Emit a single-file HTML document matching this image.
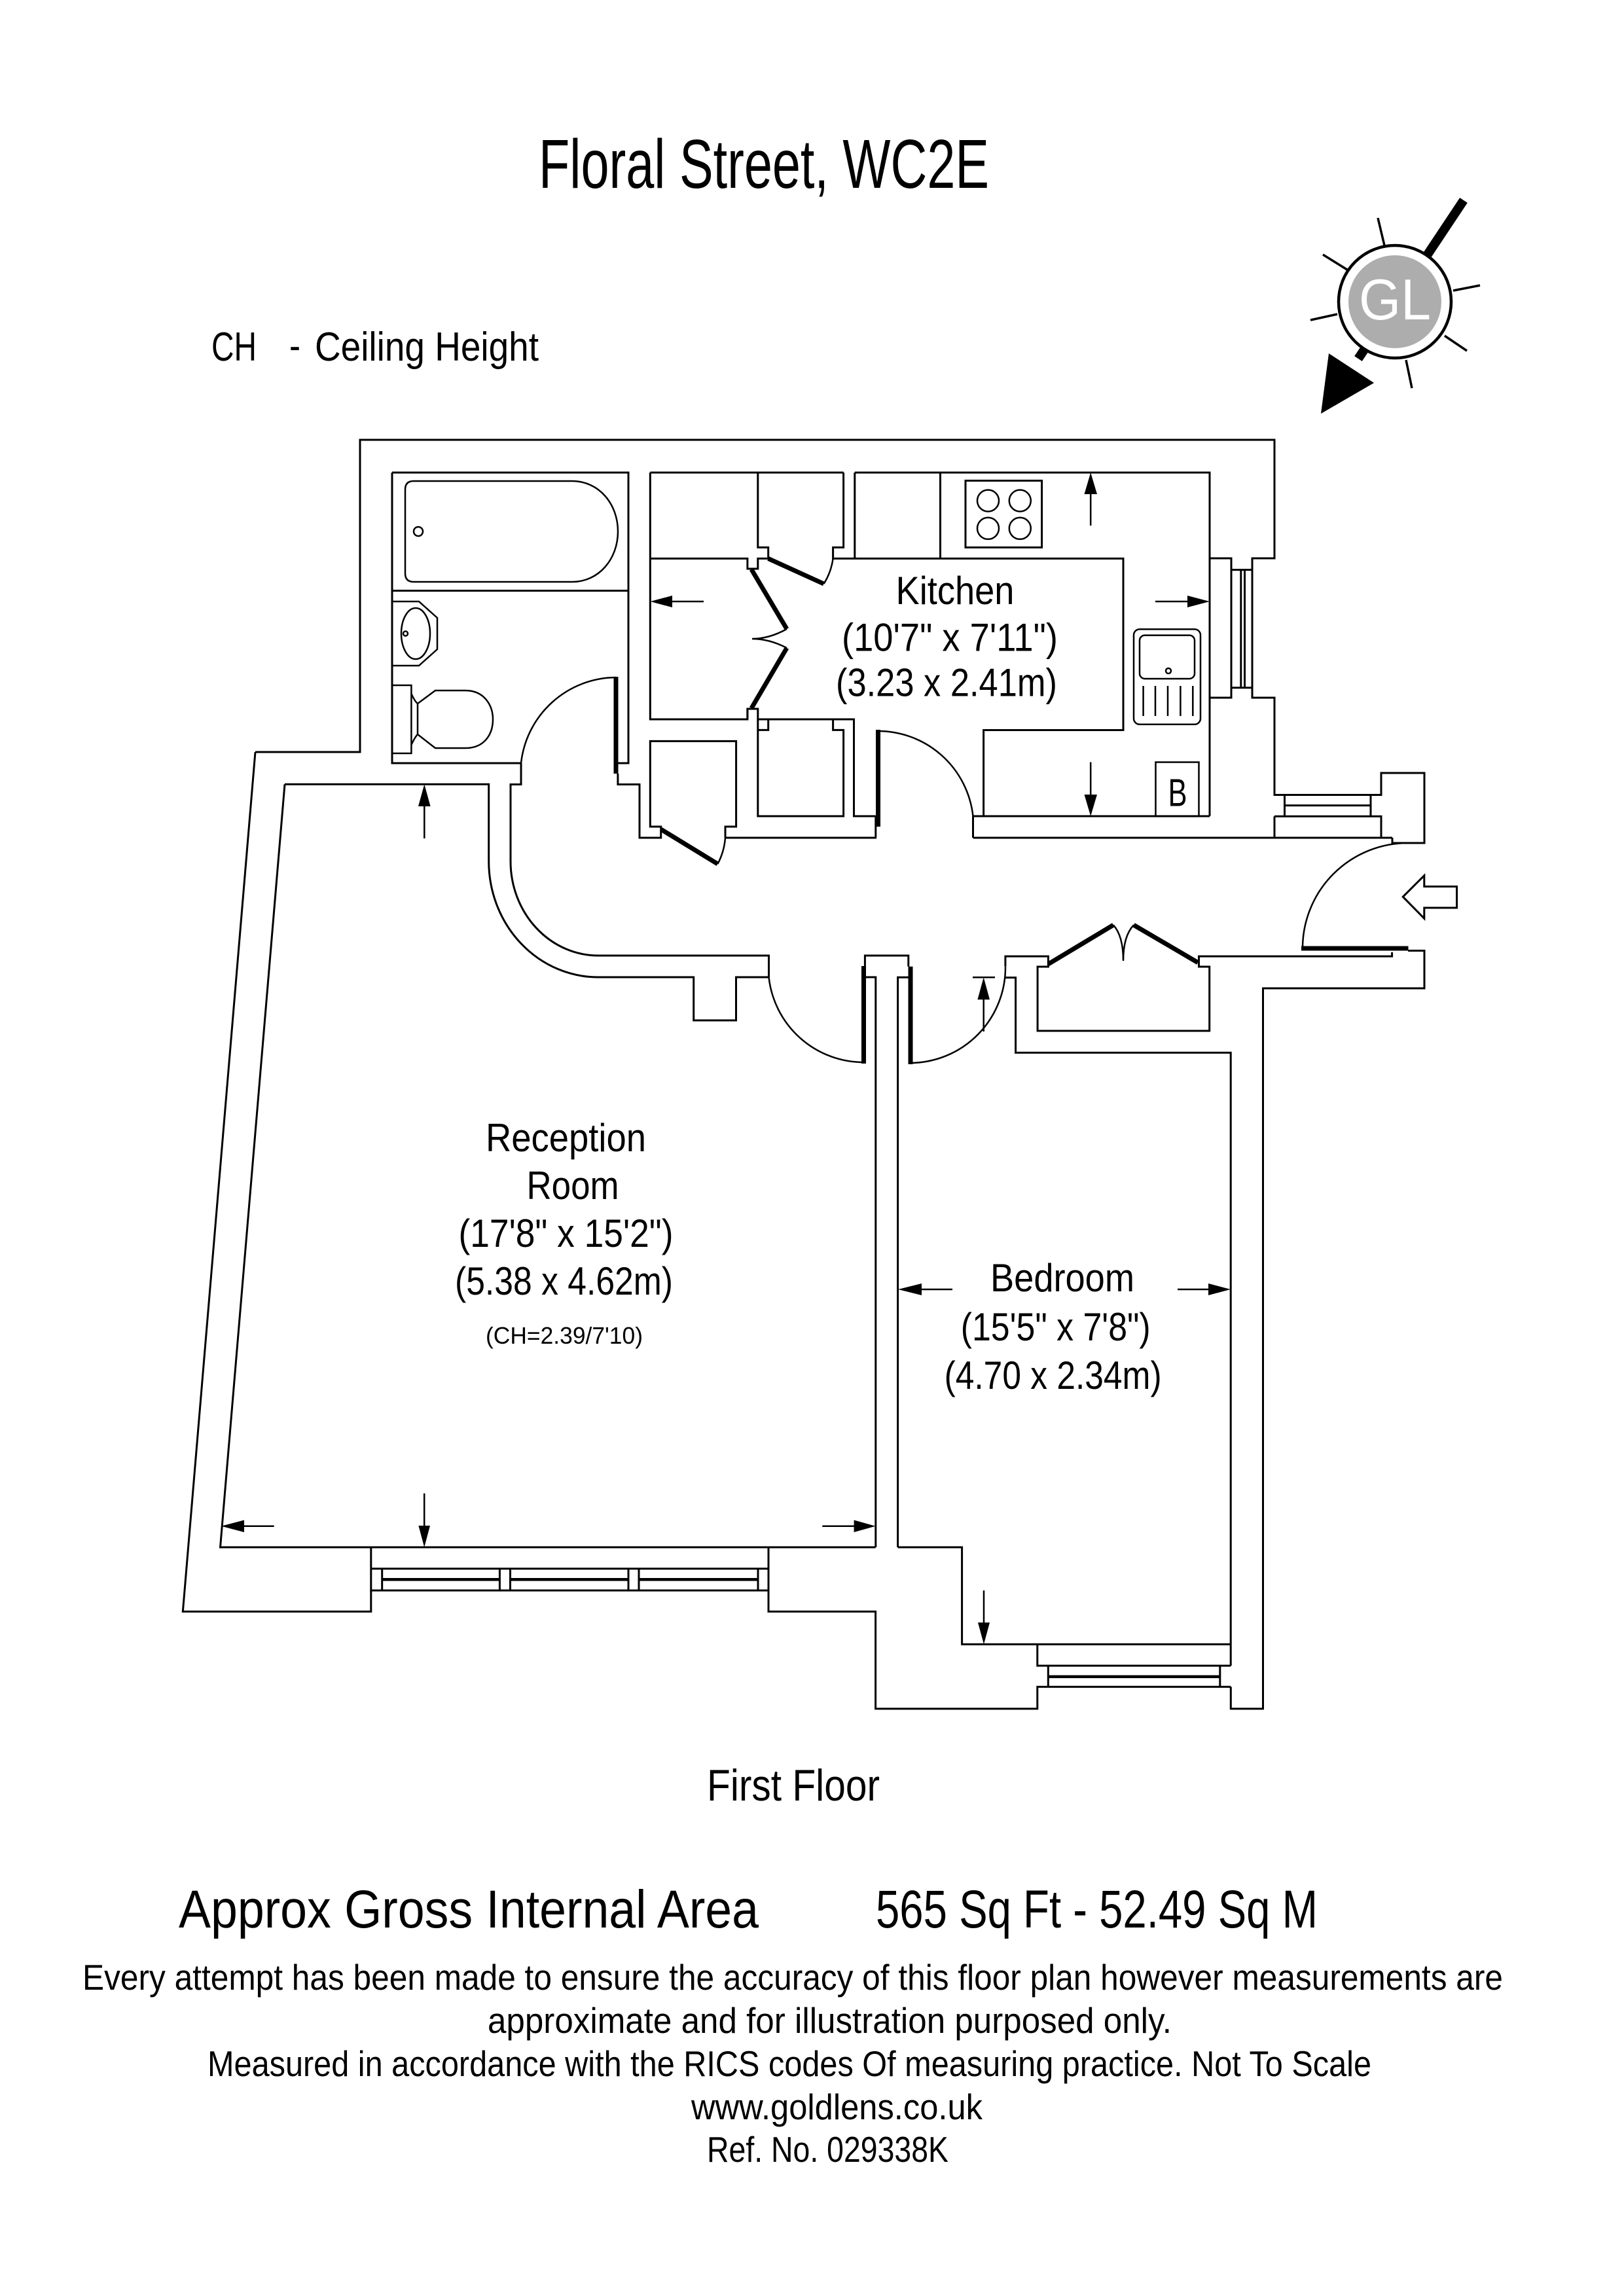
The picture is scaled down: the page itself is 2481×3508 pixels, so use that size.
<!DOCTYPE html>
<html><head><meta charset="utf-8"><style>
html,body{margin:0;padding:0;background:#fff;}
svg{display:block;}
text{font-family:"Liberation Sans Narrow","Liberation Sans",sans-serif;fill:#000;}
</style></head><body>
<svg width="2481" height="3508" viewBox="0 0 2481 3508" xmlns="http://www.w3.org/2000/svg">
<rect width="2481" height="3508" fill="#fff"/>

<!-- Title texts -->
<text x="823" y="287" font-size="106" textLength="688" lengthAdjust="spacingAndGlyphs">Floral Street, WC2E</text>
<text x="323" y="551" font-size="62" textLength="69" lengthAdjust="spacingAndGlyphs">CH</text>
<text x="442" y="549" font-size="62" textLength="17" lengthAdjust="spacingAndGlyphs">-</text>
<text x="481" y="551" font-size="62" textLength="342" lengthAdjust="spacingAndGlyphs">Ceiling Height</text>

<!-- Compass -->
<g>
<line x1="2236" y1="306" x2="2075" y2="548" stroke="#000" stroke-width="14"/>
<polygon points="2018,632 2030,540 2099,585" fill="#000"/>
<g stroke="#000" stroke-width="3.5" stroke-linecap="butt">
<line x1="2105" y1="333" x2="2115" y2="375"/>
<line x1="2021" y1="389" x2="2058" y2="412"/>
<line x1="2002" y1="489" x2="2043" y2="480"/>
<line x1="2220" y1="444" x2="2261" y2="436"/>
<line x1="2207" y1="513" x2="2241" y2="536"/>
<line x1="2148" y1="550" x2="2157" y2="593"/>
</g>
<circle cx="2131" cy="461" r="86" fill="#fff" stroke="#000" stroke-width="4.5"/>
<circle cx="2131" cy="461" r="71" fill="#adadad"/>
<text x="2131" y="488" font-size="88" text-anchor="middle" textLength="110" lengthAdjust="spacingAndGlyphs" style="fill:#fff;font-family:'Liberation Sans',sans-serif;">GL</text>
</g>

<!-- Walls -->
<g fill="none" stroke="#000" stroke-width="3" stroke-linejoin="miter">
<path d="M390,1149 L550,1149 L550,672 L1947,672 L1947,853 L1913,853 L1913,1066 L1947,1066 L1947,1214.5 L2110,1214.5 L2110,1181 L2176,1181 L2176,1288 L2127,1288 L2127,1280"/>
<path d="M1848,853 L1881,853 L1881,1066 L1848,1066 M1881,870.6 L1913,870.6 M1881,1050.7 L1913,1050.7 M1895.8,870.6 L1895.8,1050.7 M1901.5,870.6 L1901.5,1050.7"/>
<path d="M1962.5,1214.5 L1962.5,1247.3 M2094,1214.5 L2094,1247.3 M1962.5,1230.6 L2094,1230.6 M1947,1247.3 L2110,1247.3 L2110,1280 M1947,1247.3 L1947,1280"/>
<path d="M1108,1280 L1339,1280 M1486.5,1280 L2127,1280 M1486.5,1247 L1848,1247 M1486.5,1247 L1486.5,1280 M1337.8,1247 L1337.8,1280"/>

<path d="M599,722 L960,722 L960,1166 L941,1166 M796,1166 L599,1166 L599,722 M599,902.5 L960,902.5"/>
<path d="M796,1166 L796,1198.5 L780,1198.5 L780,1316 A134,144 0 0 0 914,1460 L1174.5,1460 L1174.5,1493"/>
<path d="M943.9,1182 L943.9,1198.5 L977,1198.5 L977,1280 L1009.7,1280 L1009.7,1263 L993.3,1263 L993.3,1132.4 L1124.6,1132.4 L1124.6,1263 L1108,1263 L1108,1280"/>

<path d="M993.3,722 L1288.6,722 M1305.8,722 L1848,722 L1848,1247"/>
<path d="M993.3,722 L993.3,1099 L1141.9,1099 L1141.9,1083 L1157.8,1083 L1157.8,1099 L1304.5,1099 L1304.5,1247 L1337.8,1247"/>
<path d="M1157.8,1099 L1157.8,1115.4 L1173.7,1115.4 L1173.7,1099 M1272.6,1099 L1272.6,1115.4 L1288.6,1115.4 L1288.6,1247 L1157.8,1247 L1157.8,1115.4"/>
<path d="M1157.8,722 L1157.8,836.4 L1173.7,836.4 L1173.7,853.4 M1288.6,722 L1288.6,836.4 L1272.6,836.4 L1272.6,853.4 L1716,853.4 L1716,1115.5 L1502.6,1115.5 L1502.6,1247"/>
<path d="M993.3,853.4 L1141.9,853.4 L1141.9,869 L1157.8,869 L1157.8,853.4 L1173.7,853.4 M1141.9,1099 L1141.9,1083"/>
<path d="M1305.8,722 L1305.8,853.4 M1436.5,722 L1436.5,853.4"/>
<rect x="1475" y="734.4" width="116.6" height="102"/>

<path d="M435,1198.3 L746.7,1198.3 L746.7,1316 A167,177 0 0 0 914,1493 L1059.7,1493 L1059.7,1559 L1124.5,1559 L1124.5,1493 L1174.5,1493"/>
<path d="M1321.4,1493 L1321.4,1460 L1387.8,1460 L1387.8,1476.7 M1321.4,1493 L1337.8,1493 L1337.8,2364 M1371.6,2364 L1371.6,1493.3 L1387.8,1493.3"/>
<path d="M1535.9,1476.7 L1535.9,1461.1 L1601.4,1461.1 L1601.4,1477 L1585.1,1477 L1585.1,1575 L1847.7,1575 L1847.7,1477 L1831.5,1477 L1831.5,1461.1 L2126.6,1461.1 L2126.6,1454.9"/>
<path d="M2151,1452.5 L2176,1452.5 L2176,1510 L1929.5,1510 L1929.5,2610.7 L1880.3,2610.7 L1880.3,2577.3"/>
<path d="M1535.9,1493.6 L1551.6,1493.6 L1551.6,1608.4 L1880.2,1608.4 L1880.2,2545"/>

<path d="M390,1149 L279.3,2462.3 L566.8,2462.3 L566.8,2430 M1174,2430 L1174,2462.3 L1337.6,2462.3 L1337.6,2610.7 L1584.8,2610.7 L1584.8,2577.3 L1880.3,2577.3"/>
<path d="M435,1198.3 L336.5,2364 L1337.6,2364"/>
<path d="M566.8,2364 L566.8,2430 L1174,2430 L1174,2364 M566.8,2396.7 L1174,2396.7"/>
<path d="M583.7,2396.7 L583.7,2430 M763.4,2396.7 L763.4,2430 M779.5,2396.7 L779.5,2430 M960,2396.7 L960,2430 M976,2396.7 L976,2430 M1158,2396.7 L1158,2430"/>

<path d="M1371.6,2364 L1469.6,2364 L1469.6,2512.3 L1880.3,2512.3 M1584.8,2512.3 L1584.8,2545 L1880.3,2545 M1601.3,2545 L1601.3,2577.3 M1863.8,2545 L1863.8,2577.3"/>
</g>
<g stroke="#000" stroke-width="4.5" fill="none">
<path d="M583.7,2413.3 L763.4,2413.3 M779.5,2413.3 L960,2413.3 M976,2413.3 L1158,2413.3"/>
<path d="M1601.3,2561.7 L1863.8,2561.7"/>
</g>

<!-- Door swings -->
<g fill="none" stroke="#000" stroke-width="2.5">
<path d="M941,1035 A147,147 0 0 0 796,1166"/>
<path d="M1174.5,1493 A146,146 0 0 0 1319,1623"/>
<path d="M1393,1624 A146,146 0 0 0 1536,1477"/>
<path d="M1341,1117 A146,146 0 0 1 1486.5,1247"/>
<path d="M2151,1288 A161,161 0 0 0 1990,1449"/>
<path d="M1096.4,1320 A101,101 0 0 0 1108,1280"/>
<path d="M1258.5,892 A96,96 0 0 0 1272.6,853.4"/>
<path d="M1202,961 Q1175,976 1149,976 Q1175,976 1202,990"/>
<path d="M1700.9,1413.3 Q1716,1430 1716,1468 M1732,1413.3 Q1716,1430 1716,1468"/>
</g>

<!-- Door leaves -->
<g stroke="#000" stroke-width="7" fill="none" stroke-linecap="butt">
<line x1="941" y1="1034" x2="941" y2="1182"/>
<line x1="1319.5" y1="1476" x2="1319.5" y2="1625"/>
<line x1="1391" y1="1476.7" x2="1391" y2="1626"/>
<line x1="1341.5" y1="1115" x2="1341.5" y2="1263"/>
<line x1="1988" y1="1449" x2="2151.5" y2="1449"/>
<line x1="1009.7" y1="1267" x2="1096.4" y2="1320"/>
<line x1="1173.7" y1="853.4" x2="1258.5" y2="892"/>
<line x1="1148" y1="870" x2="1202" y2="961"/>
<line x1="1202" y1="990" x2="1148" y2="1082"/>
<line x1="1601.4" y1="1473" x2="1700.9" y2="1413.3"/>
<line x1="1732" y1="1413.3" x2="1830" y2="1470.7"/>
</g>

<!-- Bathroom fixtures -->
<g fill="none" stroke="#000" stroke-width="2.5">
<path d="M632,735 L874,735 C915,735 944,770 944,812 C944,854 915,889 874,889 L632,889 Q619,889 619,876 L619,748 Q619,735 632,735 Z"/>
<circle cx="639" cy="812" r="7"/>
<path d="M599,919 L640,919 L668,944 L668,992 L640,1017 L599,1017"/>
<ellipse cx="635" cy="968" rx="22" ry="39"/>
<circle cx="619.5" cy="968" r="3.5"/>
<rect x="599" y="1047" width="29.4" height="104"/>
<path d="M638,1075 L665,1055 L711,1055 C740,1055 753,1078 753,1099 C753,1122 740,1143 711,1143 L665,1143 L638,1122 Z"/>
<path d="M628.4,1060 Q634,1072 638,1075 M628.4,1138 Q634,1126 638,1122"/>
</g>

<!-- Kitchen fixtures -->
<g fill="none" stroke="#000" stroke-width="2.5">
<circle cx="1509.5" cy="765" r="16.5"/>
<circle cx="1558.3" cy="765" r="16.5"/>
<circle cx="1509.5" cy="807.3" r="16.5"/>
<circle cx="1558.3" cy="807.3" r="16.5"/>
<rect x="1732" y="961.4" width="102" height="145.4" rx="9"/>
<rect x="1741" y="970.6" width="84" height="66.4" rx="8"/>
<circle cx="1785" cy="1025" r="4"/>
<path d="M1746.6,1048 L1746.6,1094 M1765,1048 L1765,1094 M1784,1048 L1784,1094 M1803.4,1048 L1803.4,1094 M1822.3,1048 L1822.3,1094"/>
<rect x="1765.5" y="1164.5" width="66" height="82.8"/>
</g>
<text x="1799" y="1231.5" font-size="59" text-anchor="middle" textLength="29" lengthAdjust="spacingAndGlyphs">B</text>

<!-- Entry arrow -->
<polygon points="2143.3,1370.2 2175.8,1337.7 2175.8,1354.5 2225.6,1354.5 2225.6,1387 2175.8,1387 2175.8,1403.3" fill="#fff" stroke="#000" stroke-width="3"/>

<!-- Dimension arrows -->
<g stroke="#000" stroke-width="2.5">
<line x1="1075" y1="919" x2="1027" y2="919"/>
<line x1="1666.2" y1="803" x2="1666.2" y2="755"/>
<line x1="1765" y1="919" x2="1814" y2="919"/>
<line x1="1666.2" y1="1164.5" x2="1666.2" y2="1214"/>
<line x1="648.3" y1="1281" x2="648.3" y2="1232"/>
<line x1="418.7" y1="2331.7" x2="373" y2="2331.7"/>
<line x1="1256.3" y1="2331.7" x2="1304.6" y2="2331.7"/>
<line x1="648.2" y1="2281.7" x2="648.2" y2="2331"/>
<line x1="1455" y1="1970" x2="1408" y2="1970"/>
<line x1="1799" y1="1970" x2="1846" y2="1970"/>
<line x1="1503" y1="2430" x2="1503" y2="2479"/>
<line x1="1486" y1="1493.3" x2="1520" y2="1493.3"/>
<line x1="1502.7" y1="1576" x2="1502.7" y2="1527"/>
</g>
<g fill="#000">
<polygon points="993.3,919 1027,910 1027,928"/>
<polygon points="1666.2,722 1656.5,755 1676,755"/>
<polygon points="1848,919 1814,910 1814,928"/>
<polygon points="1666.2,1247 1656.5,1214 1676,1214"/>
<polygon points="648.3,1198.3 639,1232 657.6,1232"/>
<polygon points="338,2331.7 373,2322.5 373,2341"/>
<polygon points="1337.6,2331.7 1304.6,2322.5 1304.6,2341"/>
<polygon points="648.2,2364 639.4,2331 657,2331"/>
<polygon points="1372,1970 1408,1961 1408,1979"/>
<polygon points="1880,1970 1846,1961 1846,1979"/>
<polygon points="1503,2512.3 1494,2479 1512,2479"/>
<polygon points="1502.7,1493.3 1493.4,1527.3 1512,1527.3"/>
</g>

<!-- Room labels -->
<g font-size="60" text-anchor="middle">
<text x="1459" y="923" textLength="181" lengthAdjust="spacingAndGlyphs">Kitchen</text>
<text x="1451" y="994.6" textLength="330" lengthAdjust="spacingAndGlyphs">(10'7" x 7'11")</text>
<text x="1446" y="1063.5" textLength="338" lengthAdjust="spacingAndGlyphs">(3.23 x 2.41m)</text>
<text x="864.5" y="1759" textLength="245" lengthAdjust="spacingAndGlyphs">Reception</text>
<text x="875" y="1832" textLength="141" lengthAdjust="spacingAndGlyphs">Room</text>
<text x="864.5" y="1905" textLength="328" lengthAdjust="spacingAndGlyphs">(17'8" x 15'2")</text>
<text x="861.5" y="1978" textLength="333" lengthAdjust="spacingAndGlyphs">(5.38 x 4.62m)</text>
<text x="1623" y="1973" textLength="220" lengthAdjust="spacingAndGlyphs">Bedroom</text>
<text x="1612.7" y="2048" textLength="290" lengthAdjust="spacingAndGlyphs">(15'5" x 7'8")</text>
<text x="1608.6" y="2122" textLength="332" lengthAdjust="spacingAndGlyphs">(4.70 x 2.34m)</text>
</g>
<text x="862" y="2053" font-size="36" text-anchor="middle" textLength="240" lengthAdjust="spacingAndGlyphs">(CH=2.39/7'10)</text>

<!-- Bottom texts -->
<text x="1080" y="2751" font-size="68" textLength="264" lengthAdjust="spacingAndGlyphs">First Floor</text>
<text x="273" y="2945" font-size="82" textLength="886" lengthAdjust="spacingAndGlyphs">Approx Gross Internal Area</text>
<text x="1338" y="2945" font-size="82" textLength="675" lengthAdjust="spacingAndGlyphs">565 Sq Ft  - 52.49 Sq M</text>
<text x="126" y="3040" font-size="55" textLength="2170" lengthAdjust="spacingAndGlyphs">Every attempt has been made to ensure the accuracy of this floor plan however measurements are</text>
<text x="745" y="3106" font-size="55" textLength="1045" lengthAdjust="spacingAndGlyphs">approximate and for illustration purposed only.</text>
<text x="317" y="3172" font-size="55" textLength="1778" lengthAdjust="spacingAndGlyphs">Measured in accordance with the RICS codes Of measuring practice. Not To Scale</text>
<text x="1056" y="3238" font-size="55" textLength="445" lengthAdjust="spacingAndGlyphs">www.goldlens.co.uk</text>
<text x="1080" y="3303" font-size="55" textLength="369" lengthAdjust="spacingAndGlyphs">Ref. No. 029338K</text>
</svg>
</body></html>
